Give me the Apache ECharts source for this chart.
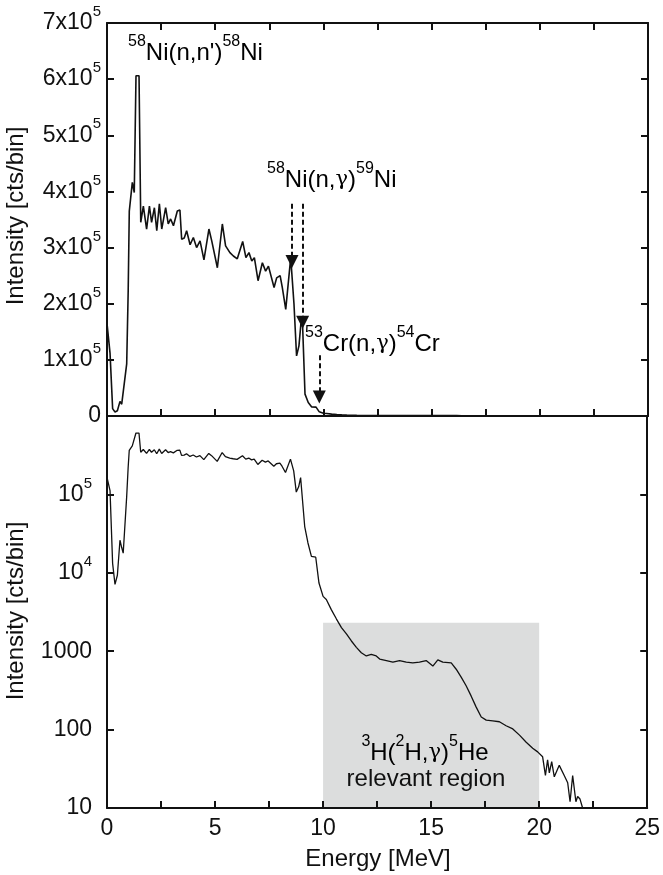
<!DOCTYPE html>
<html><head><meta charset="utf-8">
<script src="https://cdn.jsdelivr.net/npm/echarts@6/dist/echarts.min.js"></script>
<style>html,body{margin:0;padding:0;background:#fff}#c{width:663px;height:875px}</style>
</head><body><div id="c"></div>
<script>
// ---- data ----
const energyMeV = [0.00,0.14,0.26,0.37,0.48,0.60,0.68,0.75,0.91,0.98,
1.03,1.17,1.26,1.34,1.48,1.56,1.68,1.83,1.96,2.06,
2.19,2.30,2.42,2.53,2.71,2.83,2.94,3.07,3.25,3.37,
3.45,3.57,3.68,3.84,3.99,4.14,4.30,4.48,4.71,4.84,
5.10,5.33,5.48,5.68,5.84,6.02,6.27,6.42,6.56,6.69,
6.81,6.98,7.18,7.33,7.46,7.72,7.84,8.00,8.10,8.26,
8.35,8.49,8.64,8.76,8.87,8.96,9.04,9.15,9.30,9.46,
9.66,9.81,10.00,10.15,10.38,10.62,10.85,11.08,11.31,11.54,
11.77,12.00,12.23,12.46,12.62,12.93,13.23,13.54,13.85,14.15,
14.46,14.77,15.08,15.31,15.54,15.93,16.16,16.39,16.62,16.85,
17.08,17.32,17.55,17.85,18.16,18.47,18.78,19.09,19.40,19.70,
19.93,20.16,20.29,20.39,20.47,20.58,20.70,20.93,21.16,21.32,
21.43,21.55,21.70,21.78,21.89,22.01];
const intensity = [165000,112000,13200,7100,9300,26000,21000,17800,93000,224000,
365000,416000,398000,606000,606000,345000,374000,333000,374000,345000,
371000,330000,378000,333000,371000,342000,351000,339000,365000,367000,
315000,317000,330000,305000,318000,300000,312000,278000,333000,312000,
264000,342000,303000,291000,285000,280000,311000,282000,291000,276000,
282000,241000,273000,258000,267000,229000,246000,250000,229000,190000,
190000,282000,200000,107000,125000,164000,160000,38900,24000,16200,
15800,7400,5000,4570,3390,2570,2000,1660,1350,1120,
955,870,912,870,794,759,724,759,724,708,
724,759,646,776,724,708,589,468,363,269,
195,145,132,129,126,112,102,85,69,58,
52,45,26,41,28,39,25,35,26,21,
12,26,12,14,13,10];
const xTickLabels = [0,5,10,15,20,25];
const linearMantissas = [1,2,3,4,5,6,7];          // N x 10^5
const logExponentLabels = {1:'10',2:'100',3:'1000'}; // 10^4, 10^5 as powers
const arrowEnergy = [8.55, 9.04, 9.81];
const arrowFrom = [378000, 378000, 108000];
const arrowTo = [275000, 167000, 34000];
const regionX = [10, 20];
const regionY = [2300, 10];

const FONT = 'Liberation Sans, Arial, Helvetica, sans-serif';
const INK = '#111';
const pts = energyMeV.map((e, i) => [e, intensity[i]]);

const supRich = (main, sup, L) => ({
  b: {fontSize: main, lineHeight: L, fontFamily: FONT, color: INK},
  g: {fontSize: main - 3, lineHeight: L, fontFamily: 'DejaVu Serif, serif', color: INK},
  s: {fontSize: sup, lineHeight: sup, verticalAlign: 'top', fontFamily: FONT, color: INK}
});
const tickRich = supRich(23, 15, 37);
const annRich = supRich(24, 16, 39);

function frameX(grid, pos, labels) {
  return {
    gridIndex: grid, type: 'value', position: pos, min: 0, max: 25, interval: 2.5, z: 10,
    axisLine: {show: true, onZero: false, lineStyle: {color: INK, width: 2}},
    axisTick: {show: !(grid === 1 && pos === 'top'), inside: true, length: 7, lineStyle: {color: INK, width: 2}},
    splitLine: {show: false},
    axisLabel: labels ? {
      show: true, fontSize: 23, fontFamily: FONT, color: INK, margin: 9,
      showMinLabel: true, showMaxLabel: true,
      formatter: v => (xTickLabels.indexOf(Math.round(v * 10) / 10) >= 0 ? String(v) : '')
    } : {show: false}
  };
}
function linY(pos, labels) {
  return {
    gridIndex: 0, type: 'value', position: pos, min: 0, max: 700000, interval: 100000, z: 10,
    axisLine: {show: true, onZero: false, lineStyle: {color: INK, width: 2}},
    axisTick: {show: true, inside: true, length: 7, lineStyle: {color: INK, width: 2}},
    splitLine: {show: false},
    axisLabel: labels ? {
      show: true, margin: 6, rich: tickRich,
      formatter: v => {
        if (v === 0) return '{b|0}';
        const m = Math.round(v / 100000);
        return linearMantissas.indexOf(m) >= 0 ? '{b|' + m + 'x10}{s|5}' : '';
      }
    } : {show: false}
  };
}
function logY(pos, labels) {
  return {
    gridIndex: 1, type: 'log', logBase: 10, position: pos, min: 10, max: 1000000, z: 10,
    axisLine: {show: true, onZero: false, lineStyle: {color: INK, width: 2}},
    axisTick: {show: true, inside: true, length: 7, lineStyle: {color: INK, width: 2}},
    splitLine: {show: false}, minorTick: {show: false},
    axisLabel: labels ? {
      show: true, margin: 15, rich: tickRich,
      formatter: v => {
        const p = Math.round(Math.log10(v));
        if (logExponentLabels[p]) return '{b|' + logExponentLabels[p] + '}';
        if (p === 4 || p === 5) return '{b|10}{s|' + p + '}';
        return '';
      }
    } : {show: false}
  };
}

const chart = echarts.init(document.getElementById('c'), null, {renderer: 'canvas'});
chart.setOption({
  animation: false,
  backgroundColor: '#fff',
  grid: [
    {left: 107, top: 23, width: 541, height: 393},
    {left: 107, top: 416, width: 541, height: 392}
  ],
  xAxis: [frameX(0, 'bottom', false), frameX(0, 'top', false), frameX(1, 'bottom', true), frameX(1, 'top', false)],
  yAxis: [linY('left', true), linY('right', false), logY('left', true), logY('right', false)],
  series: [
    {
      type: 'line', xAxisIndex: 0, yAxisIndex: 0, data: pts, showSymbol: false, symbol: 'none', z: 3,
      lineStyle: {color: INK, width: 1.6},
      markLine: {
        silent: true, symbol: ['none', 'triangle'], symbolSize: 13,
        lineStyle: {color: INK, width: 2, type: [5, 3]},
        itemStyle: {color: INK},
        label: {show: false},
        data: arrowEnergy.map((e, i) => [{coord: [e, arrowFrom[i]]}, {coord: [e, arrowTo[i]]}])
      }
    },
    {
      type: 'line', xAxisIndex: 2, yAxisIndex: 2, data: [], z: 1,
      markArea: {
        silent: true, itemStyle: {color: '#dcdddd', opacity: 1},
        data: [[{coord: [regionX[0], regionY[0]]}, {coord: [regionX[1], regionY[1]]}]]
      }
    },
    {
      type: 'line', xAxisIndex: 2, yAxisIndex: 2, data: pts, showSymbol: false, symbol: 'none', z: 3,
      lineStyle: {color: INK, width: 1.3}
    }
  ],
  graphic: {
    elements: [
      {type: 'text', z: 100, x: 16, y: 216, rotation: Math.PI / 2, style: {text: 'Intensity [cts/bin]', fontSize: 24, fontFamily: FONT, fill: INK, align: 'center', verticalAlign: 'middle'}},
      {type: 'text', z: 100, x: 16, y: 611, rotation: Math.PI / 2, style: {text: 'Intensity [cts/bin]', fontSize: 24, fontFamily: FONT, fill: INK, align: 'center', verticalAlign: 'middle'}},
      {type: 'text', z: 100, x: 378, y: 859, style: {text: 'Energy [MeV]', fontSize: 24, fontFamily: FONT, fill: INK, align: 'center', verticalAlign: 'middle'}},
      {type: 'text', z: 100, x: 128, y: 53, style: {text: "{s|58}{b|Ni(n,n')}{s|58}{b|Ni}", rich: annRich, align: 'left', verticalAlign: 'middle'}},
      {type: 'text', z: 100, x: 267, y: 180, style: {text: '{s|58}{b|Ni(n,}{g|γ}{b|)}{s|59}{b|Ni}', rich: annRich, align: 'left', verticalAlign: 'middle'}},
      {type: 'text', z: 100, x: 305, y: 344, style: {text: '{s|53}{b|Cr(n,}{g|γ}{b|)}{s|54}{b|Cr}', rich: annRich, align: 'left', verticalAlign: 'middle'}},
      {type: 'text', z: 100, x: 425, y: 753, style: {text: '{s|3}{b|H(}{s|2}{b|H,}{g|γ}{b|)}{s|5}{b|He}', rich: annRich, align: 'center', verticalAlign: 'middle'}},
      {type: 'text', z: 100, x: 426, y: 779, style: {text: 'relevant region', fontSize: 24, fontFamily: FONT, fill: INK, align: 'center', verticalAlign: 'middle'}}
    ]
  }
});
</script></body></html>
